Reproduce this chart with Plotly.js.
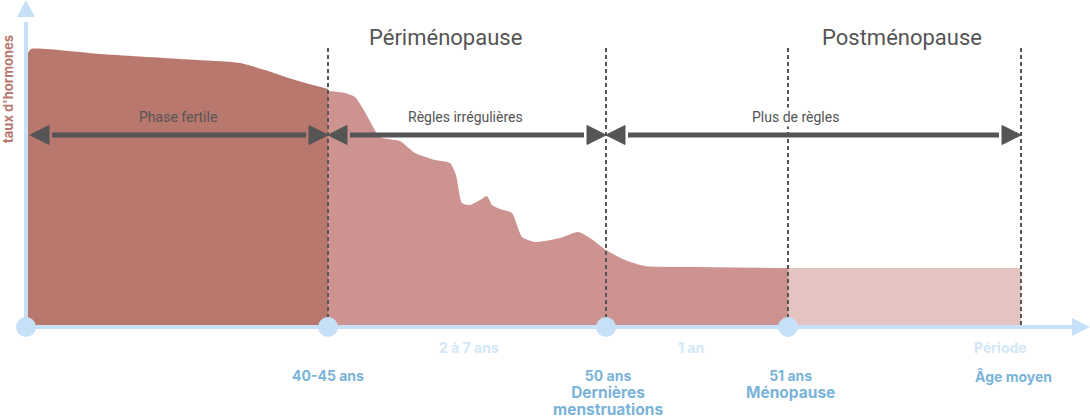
<!DOCTYPE html>
<html>
<head>
<meta charset="utf-8">
<script src="https://cdn.plot.ly/plotly-3.0.1.min.js"></script>
<style>html,body{margin:0;padding:0;background:#fff;}#chart{width:1090px;height:418px;}</style>
</head>
<body>
<div id="chart"></div>
<script>
// ---- data (x = position along the time axis, level = hormone level above the axis) ----
const fertileX     = [28, 31, 100, 180, 240, 265, 295, 328];
const fertileLevel = [274, 278, 273, 268, 264, 257, 247, 238];

const periX     = [328, 345, 355, 365, 380, 400, 415, 435, 450, 456, 462, 470, 480, 487, 492, 500, 512, 517, 522, 535, 560, 578, 590, 606, 625, 645, 700, 788];
const periLevel = [236, 234, 230, 215, 190, 186, 174, 167, 164, 152, 124, 122, 127, 131, 122, 118, 114, 102, 90, 85, 89, 95, 89, 77, 67, 61, 60, 59];

const postX     = [788, 1021];
const postLevel = [59, 59];

const milestoneX = [26, 328, 606, 788];
const dashedX    = [328, 606, 788, 1021];

const periodLabels = ['Phase fertile', 'Règles irrégulières', 'Plus de règles'];
const periodStart  = [30, 328, 606];
const periodEnd    = [328, 606, 1021];
const periodLabelX = [178, 465, 795];

const phaseTitles  = ['Périménopause', 'Postménopause'];
const phaseTitleX  = [445, 902];

const durationLabels = ['2 à 7 ans', '1 an', 'Période'];
const durationX      = [469, 691, 1000];

const ageLabels = ['40-45 ans', '50 ans', '51 ans', 'Âge moyen'];
const ageX      = [328, 608, 790, 1013];

// event lines attached to the age labels at the same index (null = none)
const eventLines = [null, ['Dernières', 'menstruations'], ['Ménopause'], null];

// ---- styles ----
const DARK = '#b9786e', MID = '#cc9391', LIGHT = '#e4c4c1';
const GREY = '#555555', AXIS = '#c6e1f7', BLUE = '#7ab3da', PALE = '#d2e7f8';
const arrowLevel = 192, headLen = 19, headHalf = 9.5, gap = 3;

const traces = [
  {x: fertileX, y: fertileLevel, mode: 'lines', line: {width: 0, shape: 'spline', smoothing: 0.6}, fill: 'tozeroy', fillcolor: DARK, hoverinfo: 'skip'},
  {x: periX, y: periLevel, mode: 'lines', line: {width: 0, shape: 'spline', smoothing: 0.6}, fill: 'tozeroy', fillcolor: MID, hoverinfo: 'skip'},
  {x: postX, y: postLevel, mode: 'lines', line: {width: 0}, fill: 'tozeroy', fillcolor: LIGHT, hoverinfo: 'skip'}
];

// dashed separators
const dx = [], dy = [];
dashedX.forEach(v => { dx.push(v, v, null); dy.push(279, 0, null); });
traces.push({x: dx, y: dy, mode: 'lines', line: {color: GREY, width: 2, dash: '4px,3px'}, hoverinfo: 'skip'});

// axes lines
traces.push({x: [26, 26, null, 26, 1072], y: [305, 0, null, 0, 0], mode: 'lines', line: {color: AXIS, width: 4}, hoverinfo: 'skip'});
// milestone dots
traces.push({x: milestoneX, y: milestoneX.map(() => 0), mode: 'markers', marker: {size: 20, color: AXIS}, hoverinfo: 'skip'});

const shapes = [
  {type: 'path', path: 'M 17,310 L 26,327 L 35,310 Z', fillcolor: AXIS, line: {width: 0}},
  {type: 'path', path: 'M 1072,9 L 1090,0 L 1072,-9 Z', fillcolor: AXIS, line: {width: 0}}
];
periodStart.forEach((a, i) => {
  const b = periodEnd[i];
  shapes.push({type: 'line', x0: a + headLen + gap, x1: b - headLen - gap, y0: arrowLevel, y1: arrowLevel, line: {color: GREY, width: 5}});
  shapes.push({type: 'path', path: `M ${a},${arrowLevel} L ${a + headLen},${arrowLevel + headHalf} L ${a + headLen},${arrowLevel - headHalf} Z`, fillcolor: GREY, line: {color: GREY, width: 1}});
  shapes.push({type: 'path', path: `M ${b},${arrowLevel} L ${b - headLen},${arrowLevel + headHalf} L ${b - headLen},${arrowLevel - headHalf} Z`, fillcolor: GREY, line: {color: GREY, width: 1}});
});

const ann = [];
const A = (text, x, y, size, color, family, extra) => Object.assign({text, x, y, xref: 'x', yref: 'y', showarrow: false, xanchor: 'center', yanchor: 'middle', font: {size, color, family}}, extra || {});
const SANS = 'Roboto, "Open Sans", sans-serif';
const BOLD = 'Inter, "Open Sans", sans-serif';

periodLabels.forEach((t, i) => ann.push(A(t, periodLabelX[i], 327 - 117, 14, GREY, SANS, i === 2 ? {bgcolor: '#ffffff'} : {})));
phaseTitles.forEach((t, i) => ann.push(A(t, phaseTitleX[i], 327 - 37, 22, GREY, SANS)));
ann.push(A('<b>taux d\'hormones</b>', 8, 327 - 89, 13, DARK, BOLD, {textangle: -90}));
durationLabels.forEach((t, i) => ann.push(A('<b>' + t + '</b>', durationX[i], 327 - 347, 14, PALE, BOLD)));

// age + event: one text block per milestone, line spacing ~17px (13px base * 1.3)
ageLabels.forEach((t, i) => {
  const extra = eventLines[i] || [];
  const txt = ['<span style="font-size:14px"><b>' + t + '</b></span>']
    .concat(extra.map(e => '<span style="font-size:15.5px"><b>' + e + '</b></span>')).join('<br>');
  ann.push(A(txt, ageX[i], 327 - 365, 13, BLUE, BOLD, {yanchor: 'top'}));
});

const layout = {
  width: 1090, height: 418,
  margin: {l: 0, r: 0, t: 0, b: 0},
  paper_bgcolor: '#ffffff', plot_bgcolor: '#ffffff',
  showlegend: false,
  xaxis: {range: [0, 1090], visible: false, fixedrange: true},
  yaxis: {range: [-91, 327], visible: false, fixedrange: true},
  shapes, annotations: ann
};
Plotly.newPlot('chart', traces, layout, {displayModeBar: false, staticPlot: true});
</script>
</body>
</html>
